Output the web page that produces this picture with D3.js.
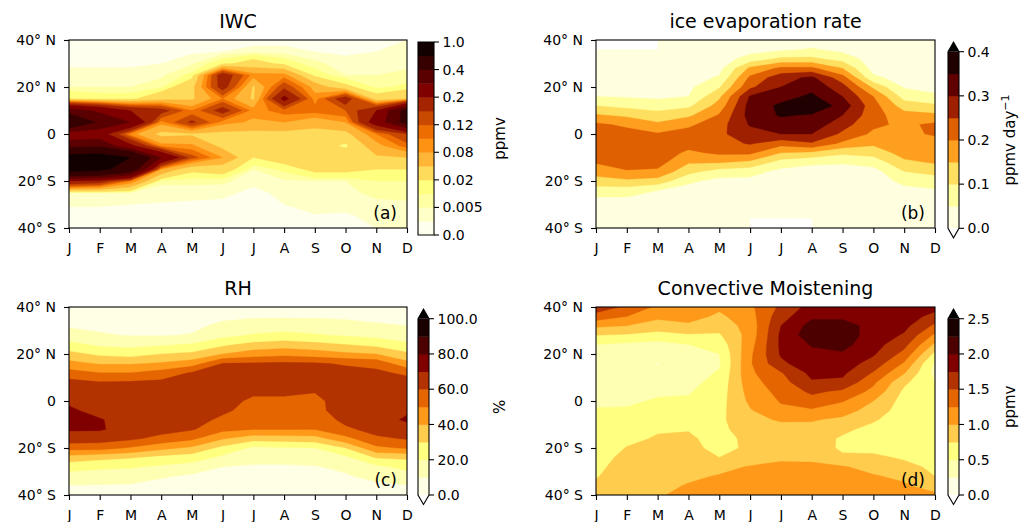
<!DOCTYPE html>
<html><head><meta charset="utf-8">
<script src="https://cdn.jsdelivr.net/npm/d3@7"></script>
<style>
body{margin:0;background:#fff}
svg{display:block}
text{font-family:"DejaVu Sans",sans-serif;fill:#000}
</style>
</head><body>
<svg id="c" width="1022" height="522"></svg>
<script>
// ---------- shared axes data ----------
const months = ["J","F","M","A","M","J","J","A","S","O","N","D"];
const latTicks = [40, 20, 0, -20, -40];
const latTickLabels = ["40° N", "20° N", "0", "20° S", "40° S"];
const lat5 = [40,35,30,25,20,15,10,5,0,-5,-10,-15,-20,-25,-30,-35,-40];
const lat4 = [40,36,32,28,24,20,16,12,8,4,0,-4,-8,-12,-16,-20,-24,-28,-32,-36,-40];

// ---------- (a) IWC, ppmv : one column per month, north -> south (lat5) ----------
const iwcLevels = [0,0.002,0.005,0.01,0.02,0.05,0.08,0.1,0.12,0.15,0.2,0.3,0.4,0.6,1.0];
const iwcTicks = [0,0.005,0.02,0.08,0.12,0.2,0.4,1.0];
const iwcTickLabels = ["0.0","0.005","0.02","0.08","0.12","0.2","0.4","1.0"];
const iwc = [
 [0.001,0.001,0.0015,0.003,0.005,0.02,0.35,0.55,0.25,0.35,0.7,0.7,0.2,0.005,0.0022,0.0012,0.001],
 [0.001,0.001,0.0015,0.003,0.005,0.015,0.28,0.38,0.24,0.38,0.7,0.65,0.18,0.005,0.0022,0.0012,0.001],
 [0.001,0.001,0.0015,0.003,0.005,0.015,0.2,0.3,0.09,0.22,0.6,0.5,0.1,0.004,0.002,0.0012,0.001],
 [0.001,0.001,0.002,0.004,0.008,0.04,0.17,0.09,0.04,0.09,0.3,0.08,0.006,0.003,0.0018,0.0012,0.001],
 [0.001,0.0015,0.004,0.012,0.04,0.045,0.1,0.16,0.045,0.085,0.13,0.025,0.006,0.003,0.0015,0.001,0.001],
 [0.001,0.002,0.015,0.18,0.17,0.1,0.17,0.09,0.04,0.04,0.08,0.03,0.006,0.0025,0.0015,0.001,0.001],
 [0.001,0.003,0.03,0.09,0.045,0.045,0.09,0.075,0.04,0.035,0.02,0.005,0.0025,0.0015,0.0012,0.001,0.001],
 [0.001,0.003,0.015,0.09,0.14,0.22,0.11,0.08,0.04,0.035,0.03,0.012,0.004,0.0025,0.002,0.0012,0.001],
 [0.001,0.002,0.006,0.015,0.07,0.09,0.11,0.06,0.04,0.035,0.035,0.025,0.005,0.004,0.003,0.0018,0.0012],
 [0.001,0.0015,0.003,0.005,0.025,0.18,0.12,0.08,0.04,0.015,0.04,0.025,0.005,0.004,0.003,0.0015,0.001],
 [0.001,0.002,0.004,0.005,0.008,0.03,0.2,0.24,0.1,0.07,0.045,0.02,0.01,0.006,0.004,0.003,0.002],
 [0.002,0.003,0.004,0.006,0.012,0.05,0.45,0.45,0.15,0.11,0.05,0.02,0.01,0.007,0.004,0.003,0.003]
];

// ---------- (b) ice evaporation rate, ppmv/day (lat4); NaN = missing ----------
const evapLevels = [0,0.05,0.1,0.15,0.2,0.25,0.3,0.35,0.4];
const evapTicks = [0,0.1,0.2,0.3,0.4];
const evapTickLabels = ["0.0","0.1","0.2","0.3","0.4"];
const evap = [
 [0.02,0.02,0.02,0.02,0.03,0.04,0.05,0.1,0.155,0.21,0.225,0.23,0.225,0.205,0.17,0.13,0.075,0.04,0.025,0.015,0.01],
 [NaN,0.02,0.02,0.02,0.025,0.035,0.045,0.085,0.14,0.19,0.22,0.235,0.24,0.225,0.195,0.14,0.075,0.04,0.025,0.015,0.01],
 [0.03,0.02,0.02,0.02,0.025,0.03,0.04,0.075,0.12,0.16,0.205,0.22,0.23,0.22,0.19,0.13,0.05,0.03,0.02,0.015,0.01],
 [0.02,0.02,0.02,0.025,0.03,0.04,0.05,0.09,0.14,0.19,0.22,0.22,0.19,0.155,0.115,0.06,0.03,0.02,0.015,0.012,0.01],
 [0.02,0.02,0.025,0.035,0.055,0.095,0.14,0.17,0.205,0.23,0.24,0.23,0.21,0.155,0.08,0.035,0.025,0.02,0.015,0.012,0.01],
 [0.02,0.03,0.07,0.16,0.21,0.24,0.305,0.32,0.32,0.305,0.28,0.255,0.21,0.14,0.07,0.035,0.025,0.02,0.015,0.01,0.01],
 [0.02,0.04,0.11,0.21,0.28,0.3,0.33,0.36,0.355,0.33,0.3,0.22,0.15,0.08,0.035,0.025,0.02,0.015,0.012,0.01,NaN],
 [0.02,0.055,0.11,0.21,0.31,0.335,0.36,0.39,0.345,0.33,0.3,0.245,0.14,0.06,0.03,0.02,0.02,0.015,0.012,0.01,0.01],
 [0.02,0.035,0.08,0.15,0.22,0.27,0.3,0.33,0.3,0.27,0.24,0.19,0.11,0.055,0.03,0.02,0.02,0.015,0.012,0.01,0.01],
 [0.02,0.02,0.025,0.03,0.06,0.14,0.2,0.22,0.22,0.21,0.19,0.16,0.12,0.07,0.03,0.02,0.02,0.015,0.012,0.01,0.01],
 [0.02,0.02,0.02,0.025,0.03,0.045,0.08,0.125,0.17,0.19,0.19,0.185,0.17,0.14,0.1,0.065,0.035,0.02,0.015,0.012,0.01],
 [0.02,0.02,0.02,0.025,0.03,0.04,0.055,0.11,0.16,0.21,0.205,0.18,0.17,0.155,0.115,0.075,0.045,0.03,0.02,0.015,0.01]
];

// ---------- (c) RH, % (lat4) ----------
const rhLevels = [0,10,20,30,40,50,60,70,80,90,100];
const rhTicks = [0,20,40,60,80,100];
const rhTickLabels = ["0.0","20.0","40.0","60.0","80.0","100.0"];
const rh = [
 [5,7,9,14,23,33,43,54,63,67,69,71,74,71,66,54,36,24,16,9.5,7],
 [4,6,8,11,18,28,39,50,60.5,64,66,68,70.5,71,65,54,33,22,15,9.5,7],
 [4,6,8,9.5,17,26,39,50,61,65,66,67,67,66,62,49,31,21,15,9,6],
 [4,6,8,9.5,18.5,30,41,54,62,65,66,67,66,64,57,43,27,18.5,11,7,5],
 [5,6,8,10.5,21,32,45,61,64,66,66,65,64,61,52,38,25,16,8.5,6,5],
 [5,8,12,17,28,40,60.5,64,66,66,64,62,58,53,41,27,18,10,7,5,4],
 [6,9,14,21,33,45,61,63,63,62,58,56,54,50.5,34,18,13,9,7,5,4],
 [6,9,15,23,35,47,62,64,64,62,58,56,54,50.5,35,19,13,9,7,5,4],
 [6,9,14,21,33,45,61,63,63,60.5,57,57,53,50.5,36,20,14,9.5,7,5,4],
 [6,9,12,19,30,42,59,63,65,66,66,65,63,58,47,30,18,12,9,6,5],
 [6,8,11,17,27,40,57,62,65,67,68,68,67,64,58,48,31,18,13,8,6],
 [6,8,10,15,22,32,43,58,64,66,68,69,71,67,61,51,32,23,16,9.5,7]
];

// ---------- (d) Convective Moistening, ppmv (lat4) ----------
const cmLevels = [0,0.25,0.5,0.75,1.0,1.25,1.5,1.75,2.0,2.25,2.5];
const cmTicks = [0,0.5,1.0,1.5,2.0,2.5];
const cmTickLabels = ["0.0","0.5","1.0","1.5","2.0","2.5"];
const cm = [
 [1.65,1.4,1.05,0.75,0.5,0.42,0.4,0.38,0.4,0.42,0.45,0.52,0.55,0.58,0.6,0.62,0.65,0.68,0.73,0.8,0.85],
 [1.45,1.25,1.0,0.72,0.45,0.4,0.38,0.38,0.4,0.43,0.47,0.52,0.6,0.65,0.7,0.76,0.82,0.88,0.92,0.96,0.98],
 [1.2,1.05,0.9,0.65,0.42,0.32,0.24,0.32,0.4,0.47,0.52,0.6,0.68,0.73,0.77,0.8,0.82,0.85,0.88,0.92,0.97],
 [1.25,1.1,0.95,0.72,0.5,0.45,0.42,0.4,0.43,0.48,0.53,0.6,0.68,0.74,0.78,0.8,0.82,0.88,0.95,1.02,1.08],
 [1.05,0.95,0.85,0.72,0.6,0.5,0.47,0.52,0.58,0.62,0.65,0.68,0.7,0.7,0.68,0.7,0.75,0.92,1.02,1.05,1.1],
 [1.2,1.15,1.1,1.1,1.15,1.2,1.22,1.2,1.15,1.1,1.05,0.98,0.92,0.85,0.8,0.78,0.85,1.02,1.08,1.1,1.15],
 [1.55,1.65,1.75,1.8,1.8,1.78,1.7,1.48,1.4,1.33,1.27,1.2,1.03,0.9,0.85,0.82,0.97,1.04,1.08,1.12,1.15],
 [1.85,1.95,2.1,2.15,2.02,1.95,1.9,1.82,1.72,1.55,1.4,1.22,1.02,0.92,0.86,0.85,0.95,1.05,1.1,1.15,1.2],
 [1.85,1.95,2.1,2.12,2.08,1.97,1.88,1.8,1.7,1.45,1.27,1.1,0.95,0.8,0.72,0.72,0.78,1.02,1.05,1.1,1.15],
 [1.85,1.9,1.92,1.9,1.85,1.78,1.65,1.48,1.3,1.18,1.0,0.9,0.78,0.68,0.65,0.68,0.8,0.92,1.02,1.05,1.1],
 [1.95,1.9,1.82,1.72,1.58,1.42,1.22,1.02,0.8,0.7,0.65,0.62,0.6,0.58,0.58,0.6,0.72,0.82,0.95,1.03,1.08],
 [1.85,1.65,1.45,1.2,0.95,0.68,0.45,0.42,0.5,0.55,0.58,0.6,0.6,0.62,0.63,0.65,0.67,0.7,0.75,0.88,1.05]
];

// ---------- colour map (reversed "afmhot": white -> yellow -> orange -> red -> black) ----------
function cmap(t) {
  const x = 1 - t, c = v => Math.round(255 * Math.max(0, Math.min(1, v)));
  return `rgb(${c(2 * x)},${c(2 * x - 0.5)},${c(2 * x - 1)})`;
}
const underColor = cmap(0), overColor = cmap(1);

const svg = d3.select("#c");

const panels = [
 {id:"a", title:"IWC", tag:"(a)", lats:lat5, cols:iwc, levels:iwcLevels, ticks:iwcTicks, tickLabels:iwcTickLabels,
  unit:["ppmv"], extend:false, plot:[69,407,40,228], cbar:[418,16,42,235], unitX:505},
 {id:"b", title:"ice evaporation rate", tag:"(b)", lats:lat4, cols:evap, levels:evapLevels, ticks:evapTicks, tickLabels:evapTickLabels,
  unit:["ppmv day","−1"], extend:true, plot:[596,935,40,228], cbar:[948,11,51.7,228.3], unitX:1015},
 {id:"c", title:"RH", tag:"(c)", lats:lat4, cols:rh, levels:rhLevels, ticks:rhTicks, tickLabels:rhTickLabels,
  unit:["%"], extend:true, plot:[69,407,307,495], cbar:[418,11,318.7,495], unitX:505},
 {id:"d", title:"Convective Moistening", tag:"(d)", lats:lat4, cols:cm, levels:cmLevels, ticks:cmTicks, tickLabels:cmTickLabels,
  unit:["ppmv"], extend:true, plot:[596,935,307,495], cbar:[948,11,318.7,495], unitX:1015}
];

panels.forEach(p => {
  const [x0,x1,y0,y1] = p.plot;
  const n = months.length, m = p.lats.length;
  const nb = p.levels.length - 1;
  const colors = d3.range(nb).map(i => cmap((i + 0.5) / nb));
  const xs = d3.scaleLinear().domain([0, n - 1]).range([x0, x1]);
  const ys = d3.scaleLinear().domain([40, -40]).range([y0, y1]);
  const rowLat = d3.scaleLinear().domain([0, m - 1]).range([p.lats[0], p.lats[m - 1]]);

  const grid = [];
  for (let j = 0; j < m; j++) for (let i = 0; i < n; i++) grid.push(p.cols[i][j]);

  const path = d3.geoPath(d3.geoTransform({
    point(x, y) { this.stream.point(xs(x - 0.5), ys(rowLat(y - 0.5))); }
  }));

  svg.append("clipPath").attr("id", "clip" + p.id)
    .append("rect").attr("x", x0).attr("y", y0).attr("width", x1 - x0).attr("height", y1 - y0);

  const g = svg.append("g");
  const body = g.append("g").attr("clip-path", `url(#clip${p.id})`);
  body.append("rect").attr("x", x0).attr("y", y0).attr("width", x1 - x0).attr("height", y1 - y0).attr("fill", underColor);

  const cs = d3.contours().size([n, m]).thresholds(p.levels)(grid);
  body.selectAll("path.band").data(cs).join("path")
    .attr("class", "band")
    .attr("d", path)
    .attr("fill", (d, i) => i < nb ? colors[i] : overColor)
    .attr("stroke", (d, i) => i < nb ? colors[i] : overColor)
    .attr("stroke-width", 0.3);

  // masked cells (missing data)
  const masks = [];
  for (let i = 0; i < n - 1; i++) for (let j = 0; j < m - 1; j++) {
    const c = [p.cols[i][j], p.cols[i + 1][j], p.cols[i][j + 1], p.cols[i + 1][j + 1]];
    if (c.some(v => Number.isNaN(v))) masks.push([i, j]);
  }
  body.selectAll("rect.mask").data(masks).join("rect").attr("class", "mask")
    .attr("x", d => xs(d[0])).attr("width", d => xs(d[0] + 1) - xs(d[0]))
    .attr("y", d => ys(p.lats[d[1]])).attr("height", d => ys(p.lats[d[1] + 1]) - ys(p.lats[d[1]]))
    .attr("fill", "#ffffff");

  // frame
  g.append("rect").attr("x", x0).attr("y", y0).attr("width", x1 - x0).attr("height", y1 - y0)
    .attr("fill", "none").attr("stroke", "#000").attr("stroke-width", 1.1);

  // axes
  const ya = g.append("g").attr("transform", `translate(${x0},0)`)
    .call(d3.axisLeft(ys).tickValues(latTicks).tickFormat((d, i) => latTickLabels[i]).tickSize(5).tickPadding(8));
  const xa = g.append("g").attr("transform", `translate(0,${y1})`)
    .call(d3.axisBottom(xs).tickValues(d3.range(n)).tickFormat(i => months[i]).tickSize(5).tickPadding(10));
  [ya, xa].forEach(a => {
    a.select(".domain").remove();
    a.selectAll(".tick line").attr("stroke", "#000").attr("stroke-width", 1.1);
    a.selectAll(".tick text").attr("font-size", 14).attr("font-family", "DejaVu Sans").attr("fill", "#000");
  });

  // title and tag
  g.append("text").attr("x", (x0 + x1) / 2).attr("y", y0 - 12).attr("text-anchor", "middle")
    .attr("font-size", 19).text(p.title);
  g.append("text").attr("x", x1 - 10).attr("y", y1 - 9).attr("text-anchor", "end")
    .attr("font-size", 17).text(p.tag);

  // colour bar
  const [cx, cw, cy0, cy1] = p.cbar;
  const cyS = d3.scaleLinear().domain([0, nb]).range([cy1, cy0]);
  const cb = svg.append("g");
  cb.selectAll("rect.cb").data(colors).join("rect").attr("class", "cb")
    .attr("x", cx).attr("width", cw)
    .attr("y", (d, i) => cyS(i + 1)).attr("height", (d, i) => cyS(i) - cyS(i + 1) + 0.4)
    .attr("fill", d => d);
  let outline;
  if (p.extend) {
    const tri = 9.5;
    cb.append("path").attr("d", `M${cx},${cy0}L${cx + cw / 2},${cy0 - tri}L${cx + cw},${cy0}Z`).attr("fill", overColor);
    cb.append("path").attr("d", `M${cx},${cy1}L${cx + cw / 2},${cy1 + tri}L${cx + cw},${cy1}Z`).attr("fill", underColor);
    outline = `M${cx},${cy0}L${cx + cw / 2},${cy0 - tri}L${cx + cw},${cy0}L${cx + cw},${cy1}L${cx + cw / 2},${cy1 + tri}L${cx},${cy1}Z`;
  } else {
    outline = `M${cx},${cy0}H${cx + cw}V${cy1}H${cx}Z`;
  }
  cb.append("path").attr("d", outline).attr("fill", "none").attr("stroke", "#000").attr("stroke-width", 1.1);

  const tickY = v => cyS(p.levels.indexOf(v));
  cb.selectAll("line.t").data(p.ticks).join("line").attr("class", "t")
    .attr("x1", cx + cw).attr("x2", cx + cw + 5).attr("y1", tickY).attr("y2", tickY)
    .attr("stroke", "#000").attr("stroke-width", 1.1);
  cb.selectAll("text.t").data(p.ticks).join("text").attr("class", "t")
    .attr("x", cx + cw + 8.5).attr("y", tickY).attr("dy", "0.36em")
    .attr("font-size", 14).text((d, i) => p.tickLabels[i]);

  const ut = cb.append("text")
    .attr("transform", `translate(${p.unitX},${(cy0 + cy1) / 2}) rotate(-90)`)
    .attr("text-anchor", "middle").attr("font-size", 15);
  ut.append("tspan").text(p.unit[0]);
  if (p.unit[1]) ut.append("tspan").attr("dy", -6).attr("font-size", 11).text(p.unit[1]);
});
</script>
</body></html>
